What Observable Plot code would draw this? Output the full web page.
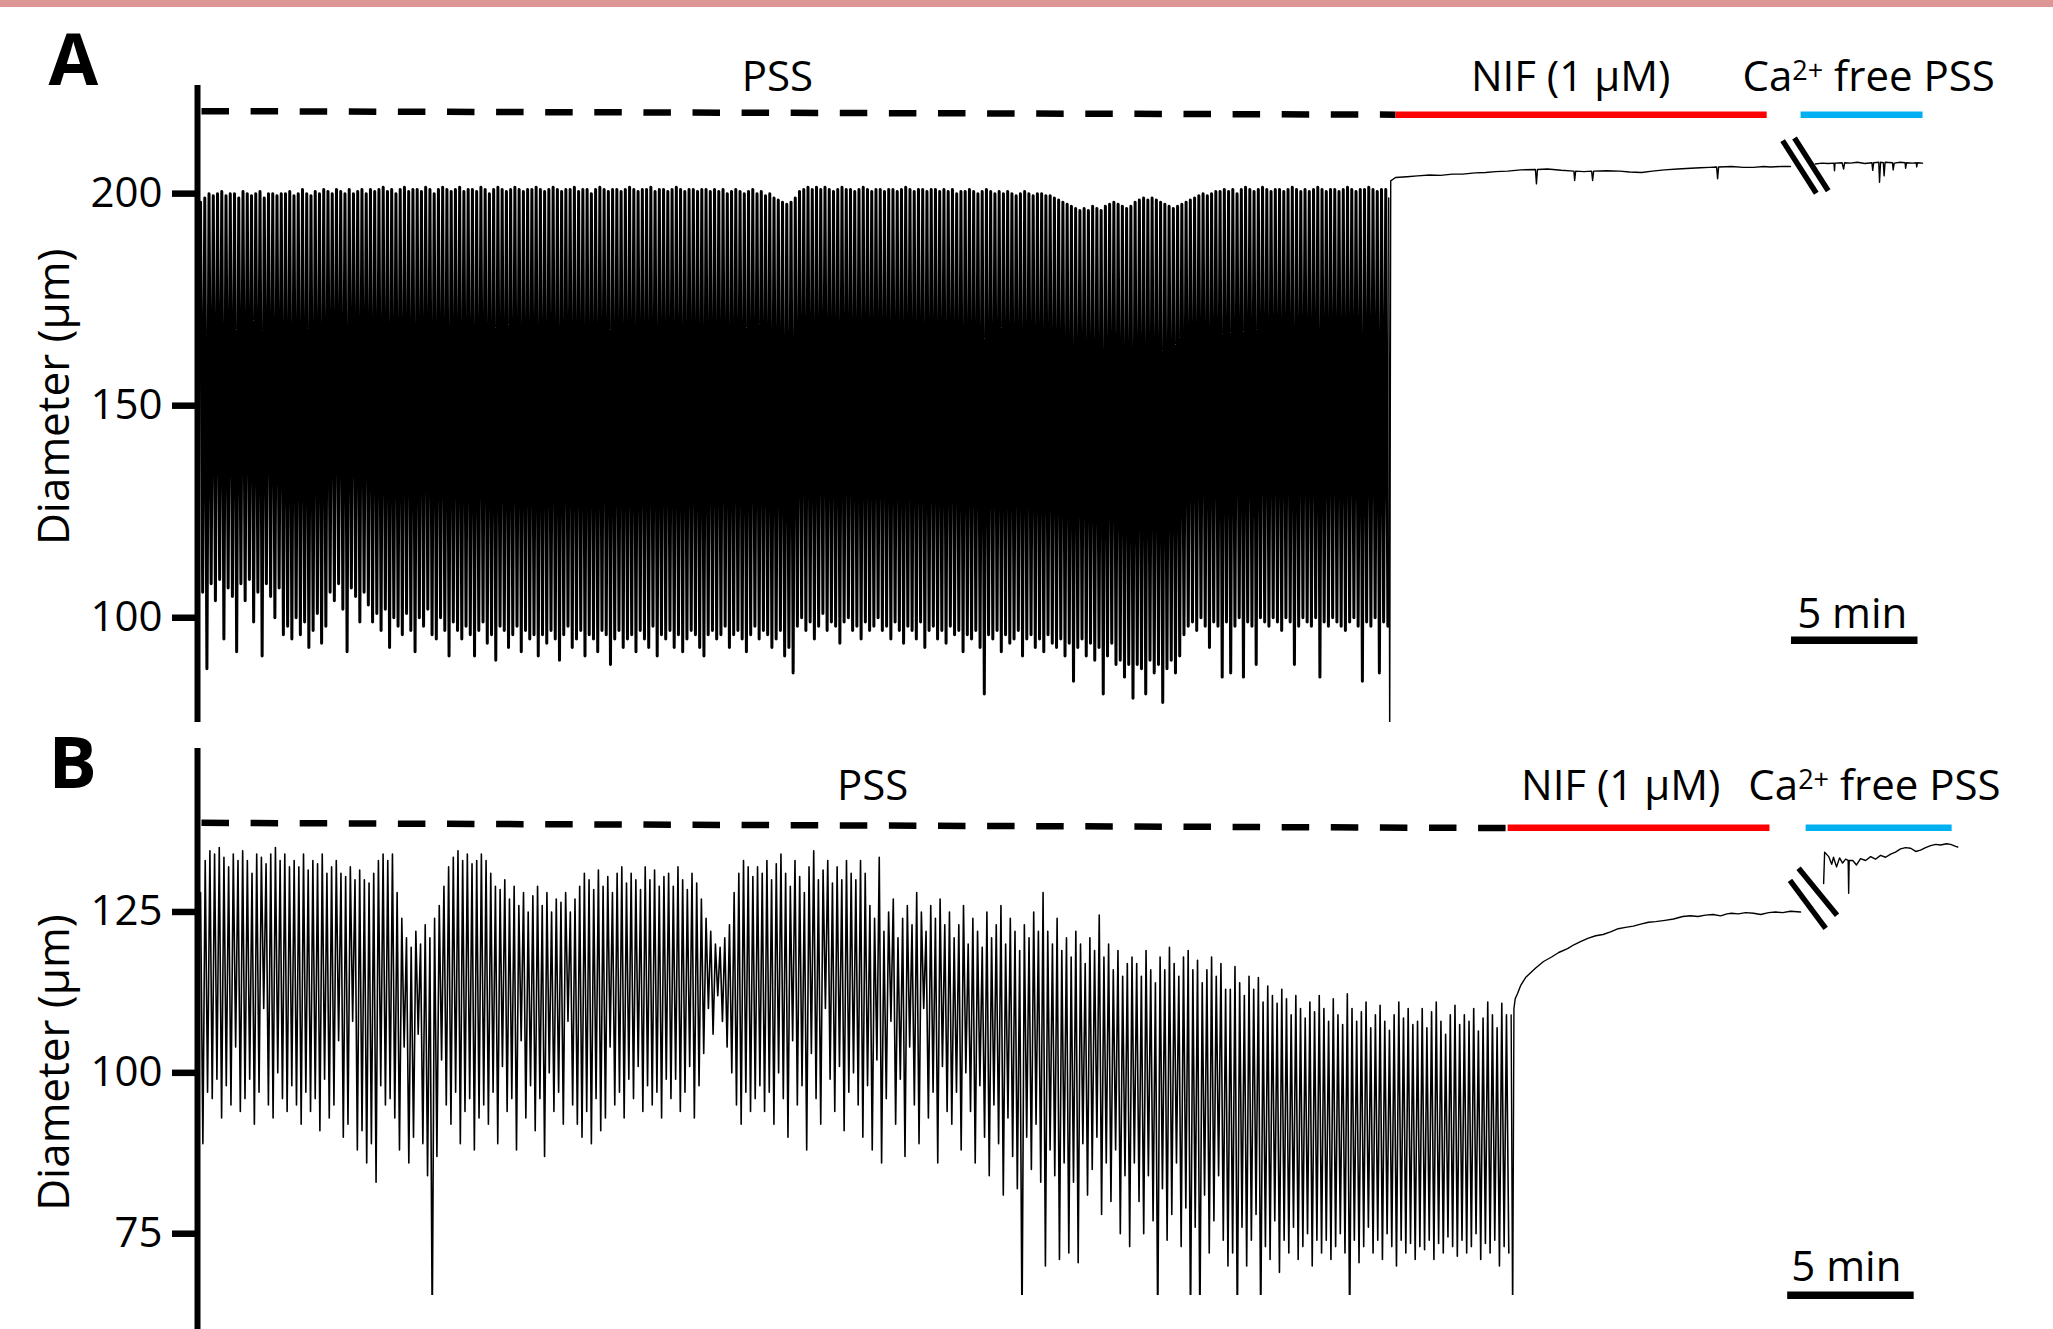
<!DOCTYPE html>
<html><head><meta charset="utf-8">
<script src="https://cdn.jsdelivr.net/npm/d3@7"></script>
<script src="https://cdn.jsdelivr.net/npm/@observablehq/plot@0.6"></script>
<style>
html,body{margin:0;padding:0;background:#fff;}
#page{position:relative;width:2053px;height:1329px;overflow:hidden;background:#fff;}
#topbar{position:absolute;left:0;top:0;width:2053px;height:7px;background:#dd9696;z-index:5;}
#panelA{position:absolute;left:0;top:0;}
#panelB{position:absolute;left:0;top:730px;}
</style></head><body>
<div id="page"><div id="topbar"></div><div id="panelA"></div><div id="panelB"></div></div>
<script>
// ---------- Panel A data (time in min, diameter in µm) ----------
const oscStartA = 0.12, cyclePeriodA = 0.1679;
const peaksA = [
198,199,200,199.5,200,200.5,199.5,200,200,199,200.5,200,199.5,200,200.5,199,200,200,199.5,200,
200,200.5,199.5,200,201,200,199.5,200.5,200,201,200.5,200,201,200.5,200,201,200,200.5,201,200,
201,200.5,201,201.5,200.5,201,200,201,201.5,200.5,201,201,200.5,201.5,201,200,201,201.5,201,200.5,
201,201.5,200.5,201,201,200.5,201.5,201,200,201,201.5,201,200.5,201,201.5,201,200.5,201,201,201.5,
201,200.5,201,201.5,201,200.5,201,201,201.5,200.5,201,201,200,201,201.5,201,200.5,201,201,200.5,
201,201.5,201,200.5,201,201,201.5,200.5,201,201,200.5,201,201.5,201,200.5,201,201,200.5,201,201,
200.5,201,200.5,201,200,200.5,201,200.5,200,200.5,201,200,200.5,199.5,200,199,198.5,198,197.5,198,
199,200.5,201,201.5,201,201.5,201,201.5,201,200.5,201,201.5,201,201,200.5,201,201.5,201,200.5,201,
201,200.5,201,201,200.5,201,201.5,201,200.5,201,201,200.5,201,201,200.5,201,200.5,201,200,200.5,
200.5,201,200.5,200,200.5,201,200.5,200,200.5,200,200.5,200,199.5,200,200.5,200,199.5,200,200,199.5,
199.5,199,198.5,198,197.5,197,196.5,196,196.5,196,197,196.5,196,197,197.5,198,197.5,197,196.5,197,
198,198.5,199,198.5,199,198.5,198,197.5,197,196.5,197,197.5,198,198.5,199,199.5,200,199.5,200,200.5,
200.5,201,200.5,201,200,201,201.5,201,200.5,201,201.5,201,200.5,201,201,200.5,201,201.5,201,200.5,
201,200.5,201,201.5,201,200.5,201,201,200.5,201,201.5,201,200.5,201,201,201.5,201,200.5,201,201];
const troughsA = [
106,88,108,104,109,95,107,105,92,108,104,109,99,106,91,108,105,100,107,96,
98,95,100,96,99,93,97,101,94,98,106,104,108,102,92,107,105,99,106,103,
99,101,97,102,93,100,98,96,101,97,92,100,98,102,96,95,100,97,91,99,
97,95,98,96,91,97,99,94,96,90,98,97,93,96,98,92,97,95,96,91,
96,94,97,95,90,96,98,93,95,97,91,96,95,92,97,96,89,95,97,93,
95,96,92,97,95,93,98,91,96,95,97,93,96,92,95,97,96,93,91,96,
97,95,96,98,93,96,97,95,92,96,98,95,97,96,93,95,97,91,93,87,
98,100,97,99,95,98,101,97,99,98,94,99,100,97,98,95,99,97,98,100,
97,98,95,99,97,94,98,97,95,99,93,97,98,95,97,94,98,96,97,92,
96,95,97,93,82,96,95,97,92,96,94,95,97,91,95,96,93,95,92,96,
94,93,95,91,94,85,93,95,91,94,90,93,82,91,94,89,90,86,89,81,
89,88,82,90,87,89,80,88,90,87,91,96,98,99,97,100,98,93,99,98,
86,99,87,98,100,86,99,98,89,100,99,98,100,99,97,100,99,89,98,100,
99,98,100,86,99,98,100,99,98,97,99,100,98,85,99,98,100,87,99,98];
const nifTimeA = [47.08,47.12,47.16,47.35,47.8,48.22,48.7,49.13,49.6,50.0,50.5,50.91,51.3,51.78,52.3,52.88,52.92,52.96,53.36,53.9,54.4,54.43,54.47,54.8,55.1,55.14,55.18,55.7,56.21,56.6,57.08,57.5,57.98,58.5,59.01,59.4,59.76,60.04,60.08,60.12,60.63,61.1,61.5,61.9,62.17,62.6,62.96];
const nifDiamA = [199,70,203.0,203.8,204.0,204.2,204.4,204.3,204.6,204.6,204.9,205.0,205.2,205.3,205.6,205.7,202.3,205.7,205.8,205.5,205.3,203.1,205.3,205.2,205.3,203.1,205.3,205.4,205.3,205.1,205.0,205.3,205.6,205.8,206.0,206.1,206.2,206.3,203.5,206.3,206.4,206.2,206.2,206.4,206.3,206.4,206.4];
const caTimeA = [63.94,64.2,64.45,64.68,64.7,64.72,65.0,65.06,65.1,65.34,65.6,65.9,66.18,66.21,66.25,66.45,66.48,66.52,66.63,66.66,66.7,66.99,67.02,67.06,67.3,67.49,67.51,67.55,67.79,67.93,67.95,67.98,68.18];
const caDiamA = [207.0,207.2,207.1,207.2,205.4,207.2,207.3,205.8,207.3,207.2,207.4,207.1,207.3,205.5,207.3,207.4,202.7,207.4,207.3,204.2,207.4,207.3,205.6,207.2,207.4,207.3,206.0,207.3,207.2,207.3,206.3,207.3,207.2];

// ---------- Panel B data ----------
const oscStartB = 0.12, cyclePeriodB = 0.185;
const peaksB = [
128,133,134.5,134,135,133.5,132,134,133,134.5,133,131,134,133.5,132.5,134,135,133,134,132,
133,132,134,131.5,133,132.5,134,131,132,133,131,130.5,132,130,131.5,130,129.5,131,133,134,
133,134,128,124,121,119.5,122,120,123,121,124,126,129,132,133.5,134.5,133,134,132.5,133,
134,133,131,129,128.5,130,127,129,126,128,125,127.5,129,126,128,125,127,126.5,128,125,
127,129,131,130,128.5,131.5,129,130.5,128,131,132,129.5,131,130,128.5,132,130,131.5,129,130.5,
131,129,132,130,128.5,131,129.5,127,124,122,120,119.5,121,123,128,131,133,132,130.5,132,
131,133,130,132.5,134,131,129,133,130.5,128,132,134.5,130,131.5,133,129.5,132,130,133,131,
130,133,131,126,124,133.5,122,125,127,121,124,126,123,128,125,122,126,124,127,123,
125,121,123,126,120,124,122,119.5,125,121,123,126,120,124,122,119,123,121,125,122,
128,122,120,124,119,121,118,122,120,117,121,119,124.5,118,120,116,119,115,117,118,
117,115,119,116,114,118,116,119.5,117,115,118,119,116,117.5,114,116,118,115,117,113,
113,116.5,114,112,115,113,114.8,111,113.5,112,110.8,113,111.5,109,112,110,108.5,111,109.5,112,
110,108,111.5,109,107.5,112.3,110,108,109.5,111,107,109,110.5,108,106.6,109,111,108.5,110,107.5,
108,110,107,109.5,111,108,106,109,110.5,107.5,109,108,110,106.5,108.5,111,109,107,110.8,109];
const troughsB = [
89,97,96,99,93,98,95,104,94,96,99,92,97,110,95,93,100,96,94,98,
95,92,97,94,96,91,99,93,95,105,90,92,108,88,91,86,89,83,98,95,
96,93,88,104,86,90,106,89,84,60,87,102,95,92,97,89,94,96,88,93,
95,92,97,89,101,94,96,88,105,93,98,91,96,87,100,94,97,92,108,95,
92,90,94,89,96,91,93,104,95,97,93,99,96,101,94,98,95,97,93,99,
96,99,94,97,101,93,98,103,110,106,112,108,104,100,95,92,97,94,96,98,
94,97,92,100,96,90,105,95,98,88,103,96,92,110,99,94,101,91,97,100,
95,90,98,88,102,86,96,108,92,99,87,104,95,89,110,93,97,86,101,94,
92,97,88,100,94,86,98,90,84,95,89,81,93,87,82,60,90,85,92,83,
70,88,84,71,86,72,83,70.5,89,81,85,90,78,86,80,88,75,84,73,86,
80,75,84,77,60,82,74,78,86,73,79,60,76,60,81,72,77,84,74,70,
72,60,76,70,74,78,60,73,71,77,69,74,72,76,71,73,75,70,74,72,
74,71,73,75,72,60,74,70.5,73,76,72,74,71,75,73,70,74,72,73.5,71,
73,72.5,74,71,73.5,72,74.5,73,71.5,74,72,73,75,71,73.5,72,74,70,73,72];
const nifTimeB = [51.92,51.98,52.03,52.08,52.17,52.3,52.49,52.7,52.89,53.2,53.52,53.8,54.15,54.4,54.66,54.95,55.26,55.55,55.85,56.15,56.44,56.75,57.04,57.35,57.63,58.0,58.34,58.7,59.01,59.3,59.6,59.9,60.2,60.45,60.63,60.9,61.19,61.5,61.78,62.1,62.37,62.65,62.96,63.36];
const nifDiamB = [109,60,110,111.5,112.3,113.6,114.8,115.6,116.3,117.3,118.0,118.7,119.3,119.9,120.4,120.9,121.3,121.5,121.9,122.4,122.6,122.8,123.1,123.4,123.5,123.7,123.9,124.3,124.4,124.3,124.5,124.6,124.4,124.7,124.8,124.7,124.9,124.8,124.6,124.9,125.0,124.9,125.1,125.0];
const caTimeB = [64.27,64.31,64.47,64.59,64.66,64.78,64.9,65.02,65.14,65.24,65.26,65.28,65.42,65.57,65.73,65.93,66.13,66.32,66.52,66.72,66.92,67.11,67.31,67.51,67.71,67.91,68.1,68.3,68.5,68.7,68.89,69.13,69.29,69.49,69.57];
const caDiamB = [129.4,134.3,133.6,132.4,133.5,132.0,133.4,132.6,133.2,133.0,127.9,133.0,133.0,132.3,133.3,133.0,133.6,133.2,133.8,133.5,134.0,134.3,134.8,135.0,134.9,134.4,134.6,135.0,135.3,135.5,135.4,135.6,135.5,135.2,135.1];

// ---------- annotation values (data units) ----------
const conditionLabels = ["PSS", "NIF (1 µM)", "Ca2+ free PSS"];
const labelTimeA = [22.92, 54.27, 66.05], labelDiamA = 224.3;
const labelTimeB = [26.68, 56.25, 66.28], labelDiamB = 142.35;
const pssBarA = {t: [0, 47.35], v: [219.46, 218.63]};
const nifBarA = {t: [47.35, 62.02], v: [218.63, 218.63]};
const caBarA = {t: [63.36, 68.18], v: [218.63, 218.63]};
const pssBarB = {t: [0, 51.78], v: [138.85, 138.04]};
const nifBarB = {t: [51.78, 62.13], v: [138.1, 138.1]};
const caBarB = {t: [63.56, 69.33], v: [138.1, 138.1]};
const breakA = {t1: [62.65, 63.12], v1: [212.5, 213.14], t2: [63.98, 64.45], v2: [200.07, 200.7]};
const breakB = {t1: [62.94, 63.28], v1: [129.9, 131.8], t2: [64.35, 64.8], v2: [122.45, 124.5]};
const scaleBarA = {t1: 63.0, t2: 68.0, v: 94.7, labelT: 65.4, labelV: 97.7};
const scaleBarB = {t1: 62.85, t2: 67.85, v: 65.44, labelT: 65.17, labelV: 67.7};
const ticksA = [100, 150, 200], ticksB = [75, 100, 125];
const yLabel = "Diameter (µm)";

// ---------- helpers ----------
function oscillation(t0, period, peaks, troughs) {
  const out = [];
  for (let i = 0; i < peaks.length; i++) {
    out.push({t: t0 + i * period, v: peaks[i]});
    out.push({t: t0 + (i + 0.5) * period, v: troughs[i]});
  }
  return out;
}
const pairs = (ts, vs) => ts.map((t, i) => ({t, v: vs[i]}));
const segs = (b) => b.t1.map((t, i) => ({t1: t, v1: b.v1[i], t2: b.t2[i], v2: b.v2[i]}));

function panel(o) {
  const lab = conditionLabels.map((s, i) => ({s, t: o.labelT[i], v: o.labelV}));
  return Plot.plot({
    width: 2053, height: o.height,
    marginLeft: 197, marginRight: 9, marginTop: o.mt, marginBottom: o.mb,
    x: {domain: [0, 73], axis: null},
    y: {domain: o.ydomain, axis: null},
    style: {fontFamily: "'Open Sans', sans-serif", fontSize: "42px", background: "transparent", overflow: "visible", color: "black"},
    marks: [
      Plot.line(oscillation(o.t0, o.period, o.peaks, o.troughs), {x: "t", y: "v", stroke: "black", strokeWidth: o.oscWidth, clip: true}),
      Plot.line(pairs(o.nifT, o.nifV), {x: "t", y: "v", stroke: "black", strokeWidth: 1.4, clip: true}),
      Plot.line(pairs(o.caT, o.caV), {x: "t", y: "v", stroke: "black", strokeWidth: 1.4, clip: true}),
      Plot.line(pairs(o.pss.t, o.pss.v), {x: "t", y: "v", stroke: "black", strokeWidth: 6.5, strokeDasharray: "27.5,21.6", strokeDashoffset: -4, strokeLinecap: "butt"}),
      Plot.line(pairs(o.nif.t, o.nif.v), {x: "t", y: "v", stroke: "#ff0000", strokeWidth: 6.5, strokeLinecap: "butt"}),
      Plot.line(pairs(o.ca.t, o.ca.v), {x: "t", y: "v", stroke: "#00b0f0", strokeWidth: 6.5, strokeLinecap: "butt"}),
      Plot.link(segs(o.brk), {x1: "t1", y1: "v1", x2: "t2", y2: "v2", stroke: "black", strokeWidth: 5.5, strokeLinecap: "butt"}),
      Plot.ruleY([o.sb], {y: "v", x1: "t1", x2: "t2", stroke: "black", strokeWidth: 7.5}),
      Plot.text([o.sb], {x: "labelT", y: "labelV", text: () => "5 min", fontSize: 42, lineAnchor: "bottom", fill: "black"}),
      Plot.text(lab, {x: "t", y: "v", text: "s", fontSize: 42, lineAnchor: "bottom", fill: "black"}),
      Plot.ruleX([0], {y1: o.axisLo, y2: o.ydomain[1], stroke: "black", strokeWidth: 6}),
      Plot.axisY(o.ticks, {anchor: "left", tickSize: 25, tickPadding: 10, strokeWidth: 6.5, fontSize: 42, label: null, fill: "black", stroke: "black"}),
      Plot.text([yLabel], {frameAnchor: "left", y: [o.ylabV], text: d => d, dx: -129, rotate: -90, textAnchor: "middle", lineAnchor: "bottom", fontSize: 44, fill: "black"}),
      Plot.text([o.letter], {frameAnchor: "top-left", text: d => d, dx: -149, dy: o.letterDy, lineAnchor: "top", textAnchor: "start", fontSize: 72, fontWeight: "bold", fill: "black"})
    ]
  });
}

function superscript(svg) {
  const ns = "http://www.w3.org/2000/svg";
  svg.querySelectorAll("text").forEach(t => {
    if (t.textContent === "Ca2+ free PSS") {
      t.textContent = "";
      const a = document.createElementNS(ns, "tspan"); a.textContent = "Ca";
      const b = document.createElementNS(ns, "tspan"); b.textContent = "2+";
      b.setAttribute("font-size", "27"); b.setAttribute("dy", "-11");
      const c = document.createElementNS(ns, "tspan"); c.textContent = "\u00a0free PSS";
      c.setAttribute("dy", "11");
      t.append(a, b, c);
    }
  });
}

const plotA = panel({
  height: 730, mt: 85, mb: 8, ydomain: [75.3, 225.5], axisLo: 75.3,
  t0: oscStartA, period: cyclePeriodA, peaks: peaksA, troughs: troughsA, oscWidth: 3.0,
  nifT: nifTimeA, nifV: nifDiamA, caT: caTimeA, caV: caDiamA,
  pss: pssBarA, nif: nifBarA, ca: caBarA, brk: breakA, sb: scaleBarA,
  labelT: labelTimeA, labelV: labelDiamA, ticks: ticksA, ylabV: 152.1, letter: "A", letterDy: -52
});
const plotB = panel({
  height: 599, mt: 18, mb: 34, ydomain: [65.4, 150.4], axisLo: 60.0,
  t0: oscStartB, period: cyclePeriodB, peaks: peaksB, troughs: troughsB, oscWidth: 1.6,
  nifT: nifTimeB, nifV: nifDiamB, caT: caTimeB, caV: caDiamB,
  pss: pssBarB, nif: nifBarB, ca: caBarB, brk: breakB, sb: scaleBarB,
  labelT: labelTimeB, labelV: labelDiamB, ticks: ticksB, ylabV: 101.6, letter: "B", letterDy: -12
});
superscript(plotA); superscript(plotB);
document.getElementById("panelA").append(plotA);
document.getElementById("panelB").append(plotB);
</script>
</body></html>
